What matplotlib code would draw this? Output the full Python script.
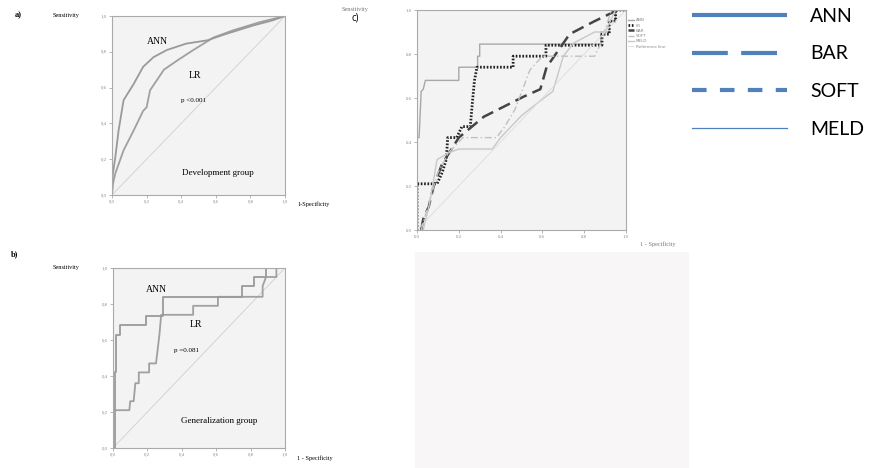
import matplotlib
matplotlib.use('Agg')
import matplotlib.pyplot as plt
from matplotlib.lines import Line2D

# ---- data ----
# a) development group (smooth ROC curves)
dev_ann_fpr = [0, 0.005, 0.019, 0.038, 0.067, 0.125, 0.18, 0.24, 0.317, 0.43, 0.55, 0.66, 0.82, 0.93, 1.0]
dev_ann_tpr = [0, 0.12, 0.21, 0.36, 0.53, 0.62, 0.716, 0.77, 0.81, 0.846, 0.864, 0.90, 0.948, 0.976, 1.0]
dev_lr_fpr = [0, 0.005, 0.019, 0.067, 0.125, 0.18, 0.2, 0.22, 0.30, 0.375, 0.47, 0.587, 0.70, 0.856, 1.0]
dev_lr_tpr = [0, 0.06, 0.12, 0.25, 0.36, 0.47, 0.49, 0.585, 0.70, 0.75, 0.81, 0.88, 0.92, 0.966, 1.0]

# b) generalization group (step ROC curves)
gen_ann_fpr = [0, 0.01, 0.01, 0.02, 0.02, 0.04, 0.04, 0.19, 0.19, 0.29, 0.29, 0.75, 0.75, 0.82, 0.82, 0.89, 0.89, 1.0]
gen_ann_tpr = [0, 0, 0.42, 0.42, 0.63, 0.63, 0.685, 0.685, 0.735, 0.735, 0.84, 0.84, 0.9, 0.9, 0.95, 0.95, 1.0, 1.0]
gen_lr_fpr = [0, 0, 0.095, 0.1, 0.12, 0.13, 0.15, 0.15, 0.21, 0.21, 0.25, 0.27, 0.28, 0.466, 0.466, 0.61, 0.61, 0.87, 0.87, 0.89, 0.95, 0.95, 1.0]
gen_lr_tpr = [0, 0.21, 0.21, 0.26, 0.26, 0.36, 0.36, 0.42, 0.42, 0.47, 0.47, 0.63, 0.74, 0.74, 0.79, 0.79, 0.84, 0.84, 0.9, 0.95, 0.95, 1.0, 1.0]

# c) all scores
c_ann_fpr = [0, 0, 0.01, 0.02, 0.03, 0.04, 0.2, 0.2, 0.29, 0.29, 0.3, 0.3, 0.62, 0.88, 0.88, 0.92, 0.92, 0.95, 0.95, 1.0]
c_ann_tpr = [0, 0.42, 0.42, 0.63, 0.64, 0.68, 0.68, 0.74, 0.74, 0.79, 0.79, 0.845, 0.845, 0.845, 0.9, 0.9, 0.95, 0.95, 1.0, 1.0]
c_lr_fpr = [0, 0, 0.096, 0.12, 0.14, 0.147, 0.19, 0.215, 0.255, 0.265, 0.275, 0.287, 0.46, 0.46, 0.617, 0.617, 0.885, 0.885, 0.92, 0.92, 0.95, 0.95, 1.0]
c_lr_tpr = [0, 0.21, 0.21, 0.26, 0.32, 0.42, 0.42, 0.47, 0.47, 0.58, 0.68, 0.74, 0.74, 0.79, 0.79, 0.84, 0.84, 0.89, 0.89, 0.95, 0.95, 1.0, 1.0]
c_bar_fpr = [0.02, 0.03, 0.056, 0.08, 0.12, 0.2, 0.32, 0.51, 0.59, 0.62, 0.73, 0.845, 0.96, 1.0]
c_bar_tpr = [0.0, 0.05, 0.106, 0.2, 0.3, 0.42, 0.515, 0.606, 0.64, 0.74, 0.89, 0.947, 1.0, 1.0]
c_soft_fpr = [0.02, 0.05, 0.1, 0.15, 0.22, 0.38, 0.42, 0.47, 0.54, 0.6, 0.85, 0.88, 0.93, 1.0]
c_soft_tpr = [0.0, 0.1, 0.26, 0.35, 0.42, 0.42, 0.47, 0.55, 0.727, 0.79, 0.79, 0.85, 1.0, 1.0]
c_meld_fpr = [0.03, 0.06, 0.096, 0.15, 0.2, 0.36, 0.4, 0.5, 0.58, 0.65, 0.7, 0.75, 0.85, 0.9, 0.95, 1.0]
c_meld_tpr = [0.0, 0.12, 0.32, 0.35, 0.368, 0.368, 0.42, 0.52, 0.58, 0.63, 0.79, 0.85, 0.9, 0.9, 1.0, 1.0]
c_labels = ['ANN', 'LR', 'BAR', 'SOFT', 'MELD', 'Reference line']

key_labels = ['ANN', 'BAR', 'SOFT', 'MELD']

W, H = 880, 468
fig = plt.figure(figsize=(8.8, 4.68), dpi=100)
fig.patch.set_facecolor('white')


def rect(l, t, r, b):
    return [l / W, 1 - b / H, (r - l) / W, (b - t) / H]


def style_axes(ax, comma):
    ax.set_facecolor('#f3f3f3')
    ax.set_xlim(0, 1)
    ax.set_ylim(0, 1)
    ticks = [0, 0.2, 0.4, 0.6, 0.8, 1.0]
    lab = ['%.1f' % t for t in ticks]
    if comma:
        lab = [s.replace('.', ',') for s in lab]
    ax.set_xticks(ticks)
    ax.set_yticks(ticks)
    ax.set_xticklabels(lab, fontsize=3.5, color='#888888', family='Liberation Serif')
    ax.set_yticklabels(lab, fontsize=3.5, color='#888888', family='Liberation Serif')
    ax.tick_params(length=2, width=0.5, color='#999999', pad=1.5)
    for s in ax.spines.values():
        s.set_color('#aaaaaa')
        s.set_linewidth(0.8)


serif = 'Liberation Serif'

# ---- a) ----
ax_a = fig.add_axes(rect(112, 16, 285, 195))
style_axes(ax_a, True)
ax_a.plot([0, 1], [0, 1], color='#cfcfcf', lw=0.6)
ax_a.plot(dev_lr_fpr, dev_lr_tpr, color='#a0a0a0', lw=1.3)
ax_a.plot(dev_ann_fpr, dev_ann_tpr, color='#9a9a9a', lw=1.3)
ax_a.text(0.26, 0.86, 'ANN', fontsize=7, family=serif, ha='center', va='center')
ax_a.text(0.48, 0.67, 'LR', fontsize=7, family=serif, ha='center', va='center')
ax_a.text(0.47, 0.53, 'p <0.001', fontsize=5, family=serif, ha='center', va='center')
ax_a.text(0.61, 0.125, 'Development group', fontsize=6.5, family=serif, ha='center', va='center')
fig.text(15 / W, 1 - 15 / H, 'a)', fontsize=6, family=serif, weight='bold', va='center')
fig.text(53 / W, 1 - 15 / H, 'Sensitivity', fontsize=4.5, family=serif, va='center')
fig.text(297 / W, 1 - 204 / H, '1-Specificity', fontsize=4.5, family=serif, va='center')

# ---- b) ----
ax_b = fig.add_axes(rect(113, 268, 285, 448))
style_axes(ax_b, True)
ax_b.plot([0, 1], [0, 1], color='#cfcfcf', lw=0.6)
ax_b.plot(gen_lr_fpr, gen_lr_tpr, color='#a0a0a0', lw=1.3)
ax_b.plot(gen_ann_fpr, gen_ann_tpr, color='#9a9a9a', lw=1.3)
ax_b.text(0.25, 0.88, 'ANN', fontsize=7, family=serif, ha='center', va='center')
ax_b.text(0.485, 0.685, 'LR', fontsize=7, family=serif, ha='center', va='center')
ax_b.text(0.43, 0.54, 'p =0.081', fontsize=5, family=serif, ha='center', va='center')
ax_b.text(0.62, 0.15, 'Generalization group', fontsize=6.5, family=serif, ha='center', va='center')
fig.text(11 / W, 1 - 254 / H, 'b)', fontsize=6, family=serif, weight='bold', va='center')
fig.text(53 / W, 1 - 268 / H, 'Sensitivity', fontsize=4.5, family=serif, va='center')
fig.text(297 / W, 1 - 458 / H, '1 - Specificity', fontsize=4.5, family=serif, va='center')

# ---- c) ----
ax_c = fig.add_axes(rect(417, 10, 626, 230))
style_axes(ax_c, False)
ax_c.plot(c_ann_fpr, c_ann_tpr, color='#a8a8a8', lw=1.0, label=c_labels[0])
ax_c.plot(c_lr_fpr, c_lr_tpr, color='#222222', lw=2.0, ls=(0, (0.6, 0.6)), label=c_labels[1])
ax_c.plot(c_bar_fpr, c_bar_tpr, color='#444444', lw=1.8, ls=(0, (5, 2.5)), label=c_labels[2])
ax_c.plot(c_soft_fpr, c_soft_tpr, color='#c0c0c0', lw=1.0, ls=(0, (5, 2, 1, 2)), label=c_labels[3])
ax_c.plot(c_meld_fpr, c_meld_tpr, color='#c8c8c8', lw=1.0, label=c_labels[4])
ax_c.plot([0, 1], [0, 1], color='#dcdcdc', lw=0.6, label=c_labels[5])
ax_c.legend(loc='upper left', bbox_to_anchor=(1.0, 0.97), fontsize=3, frameon=False,
            handlelength=1.6, handletextpad=0.4, labelspacing=0.3, borderaxespad=0,
            labelcolor='#888888')
fig.text(342 / W, 1 - 10 / H, 'Sensitivity', fontsize=4.5, family=serif, color='#777777', va='center')
fig.text(351 / W, 1 - 18 / H, 'c)', fontsize=7, family='Open Sans', va='center')
fig.text(640 / W, 1 - 244 / H, '1 - Specificity', fontsize=4.5, family=serif, color='#777777', va='center')

# blank panel under c)
ax_blank = fig.add_axes(rect(415, 252, 689, 468))
ax_blank.set_facecolor('#f8f6f6')
ax_blank.set_xticks([])
ax_blank.set_yticks([])
for s in ax_blank.spines.values():
    s.set_visible(False)

# ---- key on the right ----
key_color = '#4f81bd'
handles = [
    Line2D([], [], color=key_color, lw=3, solid_capstyle='butt'),
    Line2D([], [], color=key_color, lw=3, ls=(0, (8.6, 3.2)), dash_capstyle='butt'),
    Line2D([], [], color=key_color, lw=3, ls=(0, (3.5, 3.2)), dash_capstyle='butt'),
    Line2D([], [], color=key_color, lw=0.9),
]
fig.legend(handles, key_labels, loc='upper left', bbox_to_anchor=(684 / W, 1 - 0 / H),
           frameon=False, prop={'family': 'Lato', 'size': 14}, handlelength=4.9,
           handletextpad=1.2, labelspacing=1.06, borderaxespad=0)

fig.savefig('out.png', dpi=100)
